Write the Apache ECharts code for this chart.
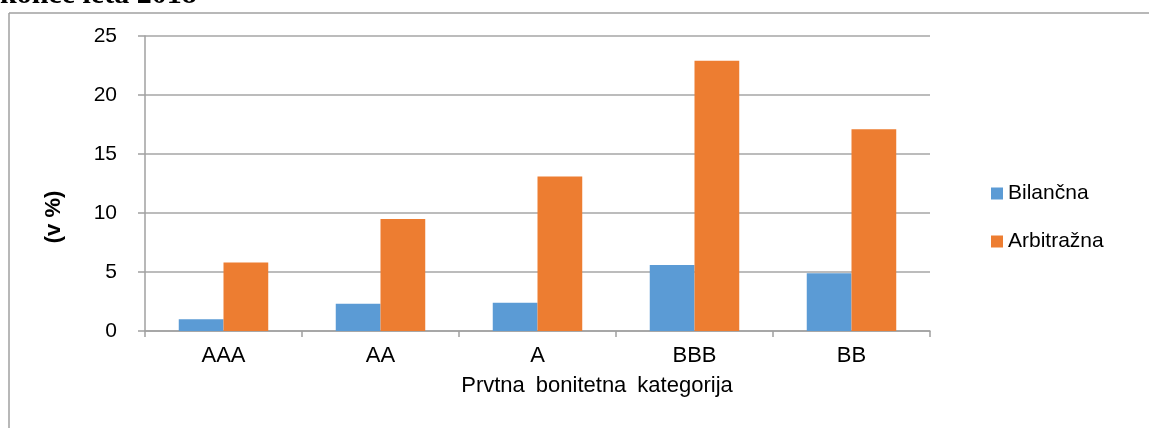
<!DOCTYPE html>
<html>
<head>
<meta charset="utf-8">
<script src="https://cdn.jsdelivr.net/npm/echarts@6/dist/echarts.min.js"></script>
<style>
html,body{margin:0;padding:0;background:#fff;}
#c{width:1149px;height:428px;}
</style>
</head>
<body>
<div id="c"></div>
<script>
const categories = ['AAA', 'AA', 'A', 'BBB', 'BB'];
const bilancna = [1.0, 2.3, 2.4, 5.6, 4.9];
const arbitrazna = [5.8, 9.5, 13.1, 22.9, 17.1];
const seriesNames = ['Bilančna', 'Arbitražna'];
const yTicks = { min: 0, max: 25, interval: 5 };
const headingText = 'konce leta 2018';
const yTitle = '(v %)';
const xTitle = 'Prvtna\u2002bonitetna\u2002kategorija';

const font = '"Liberation Sans", Arial, sans-serif';
const chart = echarts.init(document.getElementById('c'), null, { renderer: 'canvas' });
chart.setOption({
  animation: false,
  backgroundColor: '#ffffff',
  grid: { left: 145, right: 219, top: 36, bottom: 97, containLabel: false },
  legend: {
    orient: 'vertical', left: 991, top: 183, padding: 0,
    icon: 'rect', itemWidth: 12, itemHeight: 12, itemGap: 27,
    textStyle: { fontFamily: font, fontSize: 21, color: '#000', padding: [0, 0, 0, 0] },
    data: seriesNames
  },
  xAxis: {
    type: 'category', data: categories,
    axisLine: { lineStyle: { color: '#a0a0a0', width: 1.5 } },
    axisTick: { show: true, length: 6, lineStyle: { color: '#a0a0a0', width: 1.5 } },
    axisLabel: { fontFamily: font, fontSize: 22, color: '#000', margin: 14 }
  },
  yAxis: {
    type: 'value', min: yTicks.min, max: yTicks.max, interval: yTicks.interval,
    axisLine: { show: true, lineStyle: { color: '#a0a0a0', width: 1.5 } },
    axisTick: { show: true, length: 7, lineStyle: { color: '#a0a0a0', width: 1.5 } },
    splitLine: { show: true, lineStyle: { color: '#a6a6a6', width: 1.5 } },
    axisLabel: { fontFamily: font, fontSize: 21, color: '#000', margin: 28 }
  },
  series: [
    { name: seriesNames[0], type: 'bar', data: bilancna, barGap: '0%', barCategoryGap: '43%',
      itemStyle: { color: '#5B9BD5' } },
    { name: seriesNames[1], type: 'bar', data: arbitrazna, barGap: '0%', barCategoryGap: '43%',
      itemStyle: { color: '#ED7D31' } }
  ],
  graphic: [
    { type: 'line', shape: { x1: 9, y1: 13, x2: 1149, y2: 13 }, style: { stroke: '#a0a0a0', lineWidth: 1.5 } },
    { type: 'line', shape: { x1: 9, y1: 13, x2: 9, y2: 428 }, style: { stroke: '#a0a0a0', lineWidth: 1.5 } },
    { type: 'text', left: 0, top: -20, style: { text: headingText, font: 'bold 30px "Liberation Serif", "Times New Roman", serif', fill: '#000' } },
    { type: 'text', x: 54, y: 217, rotation: Math.PI / 2,
      style: { text: yTitle, font: 'bold 22px ' + font, fill: '#000', align: 'center', verticalAlign: 'middle' } },
    { type: 'text', x: 597, y: 386,
      style: { text: xTitle, font: '22px ' + font, fill: '#000', align: 'center', verticalAlign: 'middle' } }
  ]
});
</script>
</body>
</html>
